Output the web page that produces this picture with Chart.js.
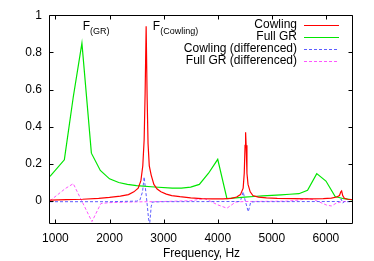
<!DOCTYPE html>
<html lang="en">
<head>
<meta charset="UTF-8">
<title>Frequency response</title>
<style>
  body { margin: 0; background: #fff; }
  #plot { display: block; }
</style>
</head>
<body>
<canvas id="plot" width="374" height="261"></canvas>
<script src="https://cdn.jsdelivr.net/npm/chart.js@4.4.0/dist/chart.umd.min.js"></script>
<script>
// values
const cowFreq = [900, 1200, 1500, 1800, 2000, 2200, 2350, 2450, 2530, 2580, 2615, 2640, 2658, 2677, 2695, 2712, 2735, 2770, 2820, 2880, 2950, 3050, 3150, 3300, 3500, 3700, 3900, 4100, 4250, 4350, 4420, 4470, 4490, 4505, 4515, 4525, 4540, 4560, 4600, 4650, 4750, 4900, 5100, 5400, 5700, 5950, 6100, 6200, 6250, 6275, 6290, 6310, 6340, 6400, 6500];
const cowVal  = [0.005, 0.008, 0.01, 0.015, 0.02, 0.027, 0.035, 0.05, 0.07, 0.11, 0.19, 0.33, 0.58, 0.94, 0.56, 0.31, 0.19, 0.14, 0.09, 0.065, 0.05, 0.038, 0.03, 0.024, 0.018, 0.014, 0.012, 0.012, 0.015, 0.022, 0.035, 0.07, 0.15, 0.3, 0.37, 0.3, 0.15, 0.09, 0.05, 0.03, 0.022, 0.018, 0.015, 0.013, 0.012, 0.013, 0.016, 0.022, 0.03, 0.05, 0.055, 0.03, 0.015, 0.01, 0.008];

const grFreq = [900, 1165, 1330, 1490, 1665, 1830, 2000, 2170, 2330, 2500, 2830, 3160, 3330, 3500, 3660, 3830, 4000, 4170, 4330, 4500, 4670, 4830, 5000, 5170, 5330, 5500, 5660, 5830, 6000, 6170, 6330, 6500];
const grVal  = [0.133, 0.222, 0.56, 0.85, 0.258, 0.165, 0.12, 0.1, 0.09, 0.083, 0.076, 0.07, 0.07, 0.075, 0.09, 0.15, 0.225, 0.014, 0.018, 0.022, 0.025, 0.028, 0.031, 0.034, 0.037, 0.04, 0.058, 0.148, 0.108, 0.025, 0.013, 0.007];

const cowDiffFreq = [900, 2000, 2500, 2560, 2610, 2640, 2690, 2720, 2740, 2770, 2790, 3000, 4400, 4430, 4470, 4510, 4565, 4610, 4700, 6250, 6280, 6310, 6340, 6500];
const cowDiffVal  = [-0.003, -0.003, 0.0, 0.005, 0.05, 0.13, 0.0, -0.09, -0.13, -0.03, -0.005, -0.003, -0.002, 0.01, 0.05, 0.0, -0.057, -0.005, -0.003, -0.002, 0.012, -0.01, -0.003, -0.003];

const grDiffFreq = [900, 1185, 1330, 1675, 1840, 2000, 2500, 3000, 3500, 3750, 3860, 4000, 4170, 4330, 4500, 5300, 5500, 5670, 5800, 6010, 6100, 6185, 6300, 6500];
const grDiffVal  = [0.002, 0.068, 0.094, -0.11, -0.013, -0.008, -0.004, -0.002, 0.002, 0.014, 0.0, -0.02, -0.038, -0.005, -0.002, 0.0, 0.006, 0.014, 0.005, -0.021, -0.026, -0.012, -0.002, -0.002];

const seriesNames = ['Cowling', 'Full GR', 'Cowling (differenced)', 'Full GR (differenced)'];
const seriesColors = ['#ff0000', '#00e600', '#5c5cff', '#ff55ff'];
const xTicks = [1000, 2000, 3000, 4000, 5000, 6000];
const yTicks = [0, 0.2, 0.4, 0.6, 0.8, 1];
const peakNames = [['F', '(GR)'], ['F', '(Cowling)']];

function pts(xs, ys) {
    return xs.map((x, i) => ({x: x, y: ys[i]}));
}

const FONT = '"Liberation Sans", Arial, sans-serif';

// frame with inward ticks, legend on the right, peak labels
const decor = {
    id: 'decor',
    afterDatasetsDraw(chart) {
        const ctx = chart.ctx;
        const a = chart.chartArea;
        const xs = chart.scales.x, ys = chart.scales.y;
        ctx.save();
        ctx.strokeStyle = '#000';
        ctx.lineWidth = 1;
        const L = Math.round(a.left) - 0.5, R = Math.round(a.right) - 0.5;
        const T = Math.round(a.top) + 0.5, B = Math.round(a.bottom) - 0.5;
        ctx.beginPath();
        ctx.rect(L, T, R - L, B - T);
        xTicks.forEach(v => {
            const px = Math.round(xs.getPixelForValue(v)) + 0.5;
            ctx.moveTo(px, B); ctx.lineTo(px, B - 4);
            ctx.moveTo(px, T); ctx.lineTo(px, T + 4);
        });
        yTicks.forEach(v => {
            const py = Math.round(ys.getPixelForValue(v)) + 0.5;
            ctx.moveTo(L, py); ctx.lineTo(L + 4, py);
            ctx.moveTo(R, py); ctx.lineTo(R - 4, py);
        });
        ctx.stroke();

        // legend
        chart.data.datasets.forEach((ds, i) => {
            const yy = 25 + i * 12;
            ctx.font = '12px ' + FONT;
            ctx.textAlign = 'right';
            ctx.textBaseline = 'middle';
            ctx.fillStyle = '#000';
            ctx.fillText(ds.label, 297, yy);
            ctx.strokeStyle = seriesColors[i];
            ctx.lineWidth = 1;
            ctx.setLineDash(ds.borderDash || []);
            ctx.beginPath();
            ctx.moveTo(304, yy + 0.5);
            ctx.lineTo(339, yy + 0.5);
            ctx.stroke();
        });
        ctx.setLineDash([]);

        // peak labels
        const spots = [1505, 2800];
        ctx.textAlign = 'left';
        ctx.textBaseline = 'alphabetic';
        ctx.fillStyle = '#000';
        peakNames.forEach((p, i) => {
            const px = xs.getPixelForValue(spots[i]);
            const py = ys.getPixelForValue(0.923);
            ctx.font = '12px ' + FONT;
            ctx.fillText(p[0], px, py);
            const w = ctx.measureText(p[0]).width;
            ctx.font = '9px ' + FONT;
            ctx.fillText(p[1], px + w, py + 4);
        });
        ctx.restore();
    }
};

const lineStyle = {pointRadius: 0, borderWidth: 1.2, tension: 0, fill: false};

new Chart(document.getElementById('plot'), {
    type: 'line',
    data: {
        datasets: [
            Object.assign({label: seriesNames[0], data: pts(cowFreq, cowVal), borderColor: seriesColors[0]}, lineStyle),
            Object.assign({label: seriesNames[1], data: pts(grFreq, grVal), borderColor: seriesColors[1]}, lineStyle),
            Object.assign({label: seriesNames[2], data: pts(cowDiffFreq, cowDiffVal), borderColor: seriesColors[2], borderDash: [3, 2]}, lineStyle, {borderWidth: 1}),
            Object.assign({label: seriesNames[3], data: pts(grDiffFreq, grDiffVal), borderColor: seriesColors[3], borderDash: [3, 2]}, lineStyle, {borderWidth: 1})
        ]
    },
    options: {
        responsive: false,
        animation: false,
        layout: {padding: {top: 14, right: 21, left: 0, bottom: 0}},
        plugins: {legend: {display: false}, tooltip: {enabled: false}},
        scales: {
            x: {
                type: 'linear',
                min: 900, max: 6500,
                afterFit: s => { s.height = 37; },
                afterBuildTicks: s => { s.ticks = xTicks.map(v => ({value: v})); },
                grid: {display: false, drawTicks: false},
                border: {display: false},
                ticks: {padding: 7, color: '#000', font: {family: FONT, size: 12}, maxRotation: 0, callback: v => String(v)},
                title: {display: true, text: 'Frequency, Hz', color: '#000', font: {family: FONT, size: 12}, padding: {top: 0, bottom: 0}}
            },
            y: {
                min: -0.123, max: 1,
                afterFit: s => { s.width = 50; },
                afterBuildTicks: s => { s.ticks = yTicks.map(v => ({value: v})); },
                grid: {display: false, drawTicks: false},
                border: {display: false},
                ticks: {padding: 8, color: '#000', font: {family: FONT, size: 12}, callback: v => String(Math.round(v * 10) / 10)}
            }
        }
    },
    plugins: [decor]
});
</script>
</body>
</html>
